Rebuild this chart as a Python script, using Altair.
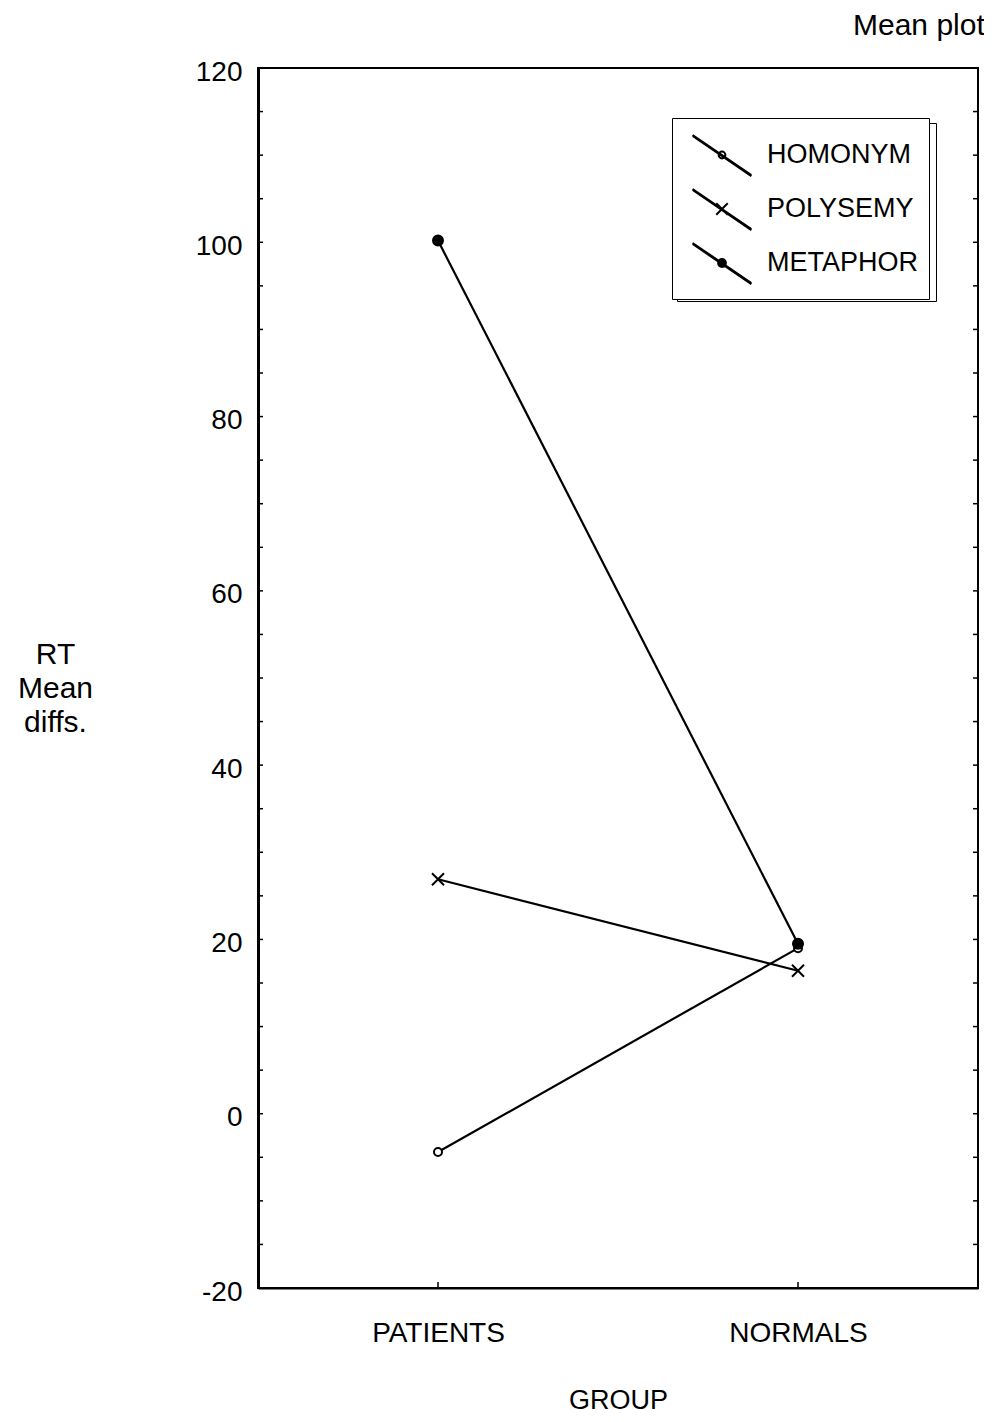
import altair as alt
import pandas as pd

# ---- data ----
GROUPS = ["PATIENTS", "NORMALS"]
SERIES = ["HOMONYM", "POLYSEMY", "METAPHOR"]
HOMONYM = [-4.4, 19.0]
POLYSEMY = [26.9, 16.4]
METAPHOR = [100.2, 19.5]
Y_LABELS = [-20, 0, 20, 40, 60, 80, 100, 120]
Y_TICKS = [-20, -15, -10, -5, 0, 5, 10, 15, 20, 25, 30, 35, 40, 45, 50, 55,
           60, 65, 70, 75, 80, 85, 90, 95, 100, 105, 110, 115, 120]

W, H = 720, 1220
FONT = "Liberation Sans, Arial, Helvetica, sans-serif"
NARROW = "Liberation Sans Narrow, Arial Narrow, Liberation Sans, sans-serif"

rows = []
for name, vals in zip(SERIES, [HOMONYM, POLYSEMY, METAPHOR]):
    for g, v in zip(GROUPS, vals):
        rows.append({"group": g, "value": v, "series": name})
df = pd.DataFrame(rows)
ytick_df = pd.DataFrame({"value": Y_TICKS})
xtick_df = pd.DataFrame({"group": GROUPS})

x_enc = alt.X(
    "group:N",
    sort=GROUPS,
    scale=alt.Scale(type="point", domain=GROUPS, padding=0.5),
    axis=alt.Axis(
        title="GROUP", titleFont=NARROW, titleFontSize=27, titleFontWeight="normal",
        titlePadding=40, labelFont=NARROW, labelFontSize=28, labelPadding=31,
        labelAngle=0, ticks=False, domain=True, domainColor="black", domainWidth=2,
        labelColor="black", titleColor="black", grid=False,
    ),
)
y_enc = alt.Y(
    "value:Q",
    scale=alt.Scale(domain=[-20, 120], nice=False, zero=False),
    axis=alt.Axis(
        values=Y_LABELS, title=["RT", "Mean", "diffs."], titleAngle=0,
        titleX=-203, titleY=571, titleAlign="center", titleBaseline="top",
        titleLineHeight=34, titleFont=FONT, titleFontSize=30, titleFontWeight="normal",
        labelFont=FONT, labelFontSize=28, labelPadding=16, labelOffset=4,
        labelExpr="datum.value < 0 ? '-' + abs(datum.value) : datum.label",
        ticks=False, domain=True, domainColor="black", domainWidth=3,
        labelColor="black", titleColor="black", grid=False,
    ),
)

# inward tick marks
ticks_left = alt.Chart(ytick_df).mark_rule(color="black", strokeWidth=1.5).encode(
    y=y_enc, x=alt.value(0), x2=alt.value(5)
)
ticks_right = alt.Chart(ytick_df).mark_rule(color="black", strokeWidth=1.5).encode(
    y=y_enc, x=alt.value(W - 5), x2=alt.value(W)
)
ticks_bottom = alt.Chart(xtick_df).mark_rule(color="black", strokeWidth=1.5).encode(
    x=x_enc, y=alt.value(H - 6), y2=alt.value(H)
)

lines = alt.Chart(df).mark_line(color="black", strokeWidth=2.2).encode(
    x=x_enc, y=y_enc, detail="series:N"
)

PT_PATHS = [
    "M0.667,0A0.667,0.667,0,1,1,-0.667,0A0.667,0.667,0,1,1,0.667,0Z",
    "M-1,-1L1,1M1,-1L-1,1",
    "M0.833,0A0.833,0.833,0,1,1,-0.833,0A0.833,0.833,0,1,1,0.833,0Z",
]
points = alt.Chart(df).mark_point(opacity=1, size=144, strokeWidth=2, color="black").encode(
    x=x_enc, y=y_enc,
    shape=alt.Shape("series:N", scale=alt.Scale(domain=SERIES, range=PT_PATHS), legend=None),
    fill=alt.Fill("series:N", scale=alt.Scale(domain=SERIES, range=["white", "white", "black"]), legend=None),
)


def ring(r):
    a, b = 0.5 + r, 0.5 - r
    return f"M{a:.3f},0A{r},{r},0,1,1,{b:.3f},0A{r},{r},0,1,1,{a:.3f},0Z"


LINE = "M-0.63,-0.77L1.63,0.77M-0.63,-0.73L1.63,0.81"
LEG_PATHS = [
    LINE + ring(0.13),
    LINE + "M0.28,-0.22L0.72,0.22M0.72,-0.22L0.28,0.22",
    LINE + ring(0.15) + ring(0.11) + ring(0.07) + ring(0.03),
]
LX, LY = 414, 50
PAD = 10
main_legend = alt.Legend(
    title=None, orient="none", legendX=LX, legendY=LY,
    labelFont=NARROW, labelFontSize=27, labelOffset=31, labelColor="black", labelLimit=400,
    symbolSize=2704, symbolStrokeWidth=2, symbolStrokeColor="black", symbolFillColor="white",
    symbolOpacity=1, rowPadding=1, padding=PAD, strokeColor="black", fillColor="white",
)
shadow_legend = alt.Legend(
    title=None, orient="none", legendX=LX + 5, legendY=LY + 5,
    direction="vertical", labelExpr="''", labelOpacity=0,
    gradientLength=158, gradientThickness=237,
    gradientStrokeWidth=0, padding=PAD, strokeColor="black", fillColor="white",
)

legend_layer = (
    alt.Chart(df)
    .transform_filter("false")
    .mark_point(opacity=1, filled=False, strokeWidth=2)
    .encode(
        x=x_enc, y=y_enc,
        color=alt.Color("value:Q", scale=alt.Scale(domain=[0, 1], range=["white", "white"]), legend=shadow_legend),
        shape=alt.Shape("series:N", scale=alt.Scale(domain=SERIES, range=LEG_PATHS), legend=main_legend),
    )
)

chart = (
    alt.layer(ticks_left, ticks_right, ticks_bottom, lines, points, legend_layer)
    .resolve_scale(shape="independent", fill="independent", color="independent")
    .properties(
        width=W, height=H,
        title=alt.TitleParams(
            "Mean plot", anchor="end", font=FONT, fontSize=30, fontWeight="normal",
            color="black", dx=6, offset=-7, baseline="alphabetic",
        ),
        autosize=alt.AutoSizeParams(type="none"),
        padding={"left": 250, "top": 60, "right": 6, "bottom": 126},
        background="white",
    )
    .configure_view(stroke="black", strokeWidth=2)
)

chart.save("out.html", embed_options={"renderer": "svg", "actions": False})
